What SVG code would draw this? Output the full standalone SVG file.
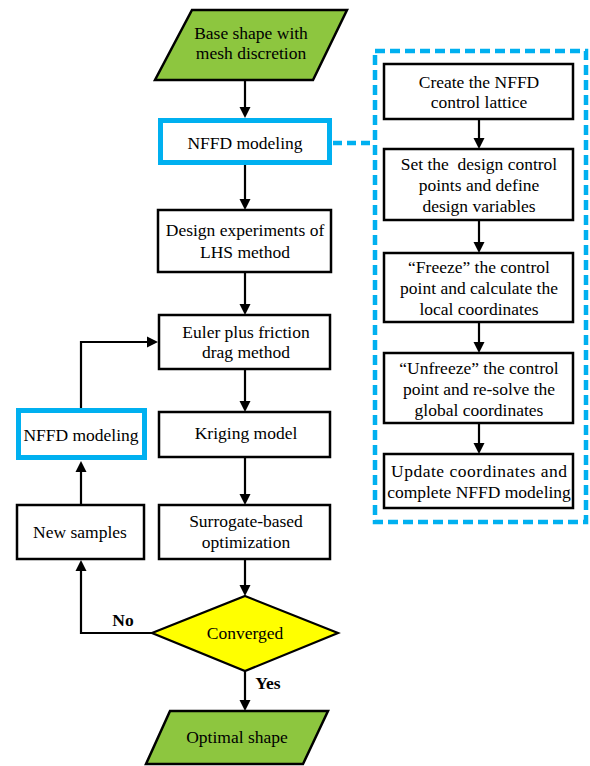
<svg xmlns="http://www.w3.org/2000/svg" width="590" height="766" viewBox="0 0 590 766">
<rect width="590" height="766" fill="#fff"/>
<g id="connectors" fill="none" stroke="#000" stroke-width="2.2">
<path d="M245,80V108M245,165V199M245,272V304M245,369V401M245,457V494M245,559V586M245,671V701"/>
<path d="M152,633H81V570M81,505V471M81,408V342H148"/>
<path d="M479,119V138M479,220V242M479,322V342M479,423V443"/>
<g fill="#000" stroke="none">
<path d="M239.5,107L250.5,107L245,118Z"/>
<path d="M239.5,199L250.5,199L245,210Z"/>
<path d="M239.5,304L250.5,304L245,315Z"/>
<path d="M239.5,401L250.5,401L245,412Z"/>
<path d="M239.5,494L250.5,494L245,505Z"/>
<path d="M239.5,585L250.5,585L245,596Z"/>
<path d="M239.5,700L250.5,700L245,711Z"/>
<path d="M75.5,571L86.5,571L81,560Z"/>
<path d="M75.5,472L86.5,472L81,461Z"/>
<path d="M147,336.5L147,347.5L158,342Z"/>
<path d="M473.5,138L484.5,138L479,149Z"/>
<path d="M473.5,242L484.5,242L479,253Z"/>
<path d="M473.5,342L484.5,342L479,353Z"/>
<path d="M473.5,443L484.5,443L479,454Z"/>
</g>
<line x1="333" y1="143" x2="373" y2="143" stroke="#00B0F0" stroke-width="4.5" stroke-dasharray="9,5"/>
<text x="123" y="626" font-family="Times New Roman" font-size="17.5" font-weight="bold" text-anchor="middle" fill="#000" stroke="none">No</text>
<text x="268" y="689" font-family="Times New Roman" font-size="17.5" font-weight="bold" text-anchor="middle" fill="#000" stroke="none">Yes</text>
</g>

<g id="panel">
<rect x="375" y="51" width="211" height="471" fill="none" stroke="#00B0F0" stroke-width="4.5" stroke-dasharray="10,5"/>
</g>

<g id="base-shape">
<polygon points="192,10 347,10 313,80 155,80" fill="#8DC63F" stroke="#000" stroke-width="2.5"/>
<text x="251" y="39" font-family="Times New Roman" font-size="17.5" text-anchor="middle">Base shape with</text>
<text x="251" y="59" font-family="Times New Roman" font-size="17.5" text-anchor="middle">mesh discretion</text>
</g>

<g id="nffd-main">
<rect x="160.5" y="120.5" width="169" height="42" fill="#fff" stroke="#00B0F0" stroke-width="5"/>
<text x="245" y="149" font-family="Times New Roman" font-size="17.5" text-anchor="middle">NFFD modeling</text>
</g>

<g id="design-exp">
<rect x="158" y="210" width="173" height="62" fill="#fff" stroke="#000" stroke-width="2.5"/>
<text x="245" y="236" font-family="Times New Roman" font-size="17.5" text-anchor="middle">Design experiments of</text>
<text x="245" y="258" font-family="Times New Roman" font-size="17.5" text-anchor="middle">LHS method</text>
</g>

<g id="euler">
<rect x="159" y="315" width="171" height="54" fill="#fff" stroke="#000" stroke-width="2.5"/>
<text x="246" y="338" font-family="Times New Roman" font-size="17.5" text-anchor="middle">Euler plus friction</text>
<text x="246" y="358" font-family="Times New Roman" font-size="17.5" text-anchor="middle">drag method</text>
</g>

<g id="kriging">
<rect x="159" y="412" width="171" height="45" fill="#fff" stroke="#000" stroke-width="2.5"/>
<text x="246" y="439" font-family="Times New Roman" font-size="17.5" text-anchor="middle">Kriging model</text>
</g>

<g id="surrogate">
<rect x="159" y="505" width="171" height="54" fill="#fff" stroke="#000" stroke-width="2.5"/>
<text x="246" y="527" font-family="Times New Roman" font-size="17.5" text-anchor="middle">Surrogate-based</text>
<text x="246" y="548" font-family="Times New Roman" font-size="17.5" text-anchor="middle">optimization</text>
</g>

<g id="nffd-left">
<rect x="18.5" y="410.5" width="126" height="47" fill="#fff" stroke="#00B0F0" stroke-width="5"/>
<text x="81" y="441" font-family="Times New Roman" font-size="17.5" text-anchor="middle">NFFD modeling</text>
</g>

<g id="new-samples">
<rect x="17" y="505" width="127" height="54" fill="#fff" stroke="#000" stroke-width="2.5"/>
<text x="80" y="538" font-family="Times New Roman" font-size="17.5" text-anchor="middle">New samples</text>
</g>

<g id="converged">
<polygon points="245,596 338,633 245,671 152,633" fill="#FFFF00" stroke="#000" stroke-width="2.2"/>
<text x="245" y="639" font-family="Times New Roman" font-size="17.5" text-anchor="middle">Converged</text>
</g>

<g id="optimal">
<polygon points="170,711 328,711 303,764 146,764" fill="#8DC63F" stroke="#000" stroke-width="2.5"/>
<text x="237" y="743" font-family="Times New Roman" font-size="17.5" text-anchor="middle">Optimal shape</text>
</g>

<g id="create-lattice">
<rect x="384" y="64" width="189" height="55" fill="#fff" stroke="#000" stroke-width="2.5"/>
<text x="479" y="88" font-family="Times New Roman" font-size="17.5" text-anchor="middle">Create the NFFD</text>
<text x="479" y="108" font-family="Times New Roman" font-size="17.5" text-anchor="middle">control lattice</text>
</g>

<g id="set-design">
<rect x="384" y="149" width="189" height="71" fill="#fff" stroke="#000" stroke-width="2.5"/>
<text x="479" y="170" xml:space="preserve" font-family="Times New Roman" font-size="17.5" text-anchor="middle">Set the  design control</text>
<text x="479" y="191" font-family="Times New Roman" font-size="17.5" text-anchor="middle">points and define</text>
<text x="479" y="212" font-family="Times New Roman" font-size="17.5" text-anchor="middle">design variables</text>
</g>

<g id="freeze">
<rect x="384" y="253" width="189" height="69" fill="#fff" stroke="#000" stroke-width="2.5"/>
<text x="479" y="273" font-family="Times New Roman" font-size="17.5" text-anchor="middle">“Freeze” the control</text>
<text x="479" y="294" font-family="Times New Roman" font-size="17.5" text-anchor="middle">point and calculate the</text>
<text x="479" y="315" font-family="Times New Roman" font-size="17.5" text-anchor="middle">local coordinates</text>
</g>

<g id="unfreeze">
<rect x="384" y="353" width="189" height="70" fill="#fff" stroke="#000" stroke-width="2.5"/>
<text x="479" y="374" font-family="Times New Roman" font-size="17.5" text-anchor="middle">“Unfreeze” the control</text>
<text x="479" y="395" font-family="Times New Roman" font-size="17.5" text-anchor="middle">point and re-solve the</text>
<text x="479" y="416" font-family="Times New Roman" font-size="17.5" text-anchor="middle">global coordinates</text>
</g>

<g id="update">
<rect x="384" y="454" width="189" height="54" fill="#fff" stroke="#000" stroke-width="2.5"/>
<text x="479" y="477" textLength="176" lengthAdjust="spacing" font-family="Times New Roman" font-size="17.5" text-anchor="middle">Update coordinates and</text>
<text x="479" y="498" font-family="Times New Roman" font-size="17.5" text-anchor="middle">complete NFFD modeling</text>
</g>
</svg>
